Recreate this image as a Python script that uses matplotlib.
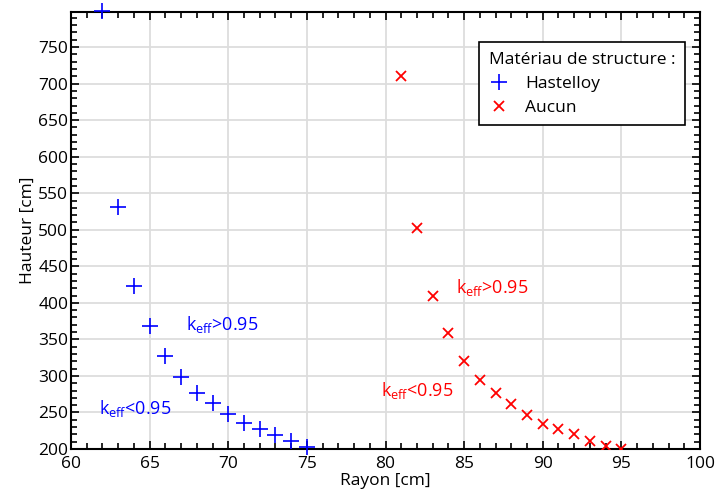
import matplotlib
matplotlib.use('Agg')
import matplotlib.pyplot as plt
from matplotlib.ticker import MultipleLocator

# Hastelloy
rayon_hast = [62, 63, 64, 65, 66, 67, 68, 69, 70, 71, 72, 73, 74, 75]
hauteur_hast = [800, 531, 423, 368, 327, 299, 277, 263, 248, 236, 227, 219, 211, 203]

# Aucun
rayon_aucun = [81, 82, 83, 84, 85, 86, 87, 88, 89, 90, 91, 92, 93, 94, 95]
hauteur_aucun = [711, 503, 409, 359, 320, 294, 277, 262, 247, 234, 228, 220, 211, 204, 200]

plt.rcParams['font.family'] = ['Open Sans', 'DejaVu Sans']

fig = plt.figure(figsize=(7.18, 4.92), dpi=100)
ax = fig.add_axes([71 / 718, 1 - 449 / 492, 629 / 718, 437 / 492])

ax.plot(rayon_hast, hauteur_hast, linestyle='none', marker='+', markersize=11,
        markeredgewidth=1.2, color='blue', label='Hastelloy', clip_on=False, zorder=3)
ax.plot(rayon_aucun, hauteur_aucun, linestyle='none', marker='x', markersize=7,
        markeredgewidth=1.3, color='red', label='Aucun', zorder=3)

ax.text(67.3, 370, r'k$_{\mathregular{eff}}$>0.95', color='blue', fontsize=13, va='center')
ax.text(61.8, 256, r'k$_{\mathregular{eff}}$<0.95', color='blue', fontsize=13, va='center')
ax.text(84.5, 421, r'k$_{\mathregular{eff}}$>0.95', color='red', fontsize=13, va='center')
ax.text(79.7, 280, r'k$_{\mathregular{eff}}$<0.95', color='red', fontsize=13, va='center')

ax.set_xlim(60, 100)
ax.set_ylim(200, 798)
ax.xaxis.set_major_locator(MultipleLocator(5))
ax.xaxis.set_minor_locator(MultipleLocator(1))
ax.yaxis.set_major_locator(MultipleLocator(50))
ax.yaxis.set_minor_locator(MultipleLocator(10))
ax.tick_params(which='both', direction='in', top=True, right=True, labelsize=12.5)
ax.tick_params(axis='y', pad=2)
ax.tick_params(axis='x', pad=5)
ax.tick_params(which='major', length=6, width=1.2)
ax.tick_params(which='minor', length=4, width=1.2)
for s in ax.spines.values():
    s.set_linewidth(1.5)
ax.grid(True, which='major', color='#dddddd', linewidth=1.3)
ax.set_axisbelow(True)

ax.set_xlabel('Rayon [cm]', fontsize=12.5, labelpad=1)
ax.set_ylabel('Hauteur [cm]', fontsize=12.5, labelpad=2)

leg = ax.legend(title='Matériau de structure :', loc='upper right',
                bbox_to_anchor=(0.976, 0.931), fontsize=12.5, title_fontsize=12.5,
                fancybox=False, edgecolor='black', framealpha=1, borderaxespad=0,
                handletextpad=0.9, handlelength=1.2, labelspacing=0.45,
                borderpad=0.55)
leg._legend_box.align = 'left'
leg.get_frame().set_linewidth(1.2)

fig.savefig('out.png', dpi=100)
